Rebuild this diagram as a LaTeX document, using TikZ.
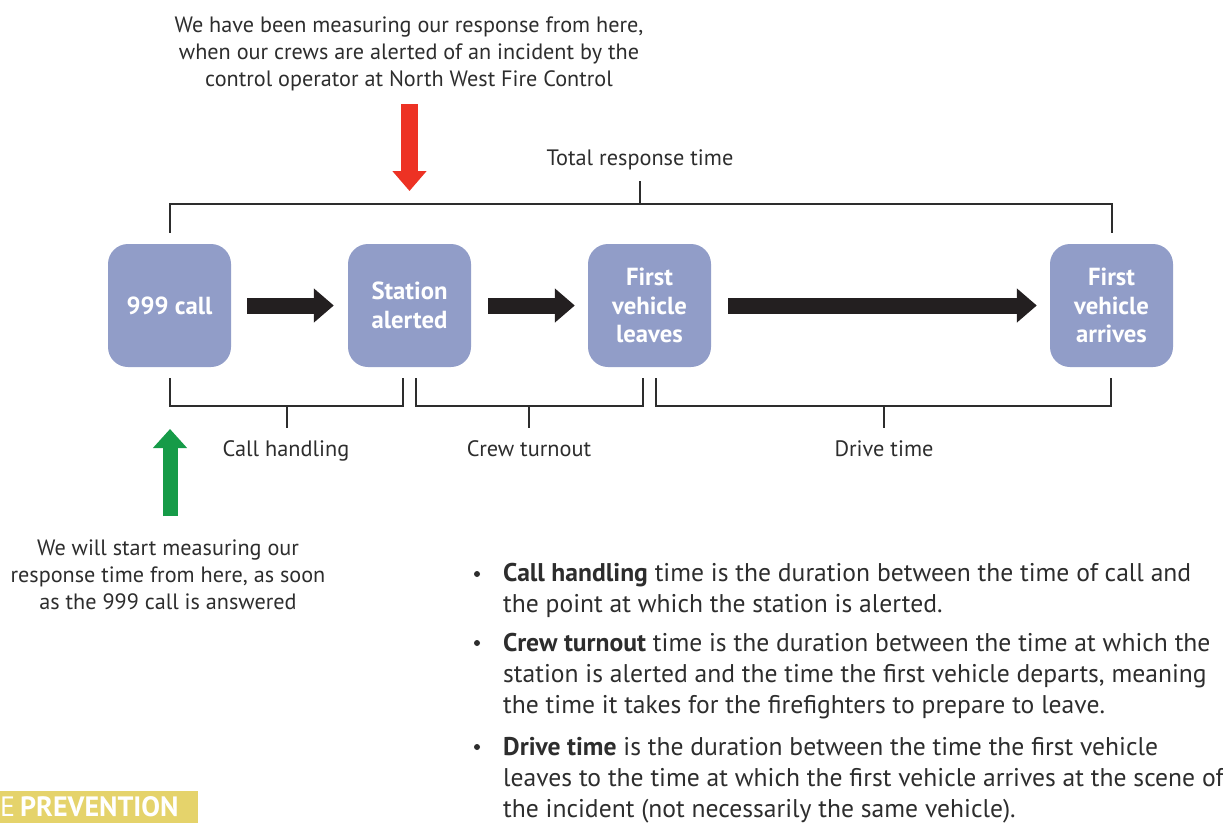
\documentclass[tikz,border=0pt]{standalone}
\usepackage{fontspec}
\setmainfont{PT Sans}
\usetikzlibrary{arrows.meta}
\definecolor{boxc}{RGB}{145,157,200}
\definecolor{txt}{RGB}{45,45,45}
\definecolor{arr}{RGB}{35,31,32}
\definecolor{redc}{RGB}{237,50,36}
\definecolor{greenc}{RGB}{22,155,72}
\definecolor{tagc}{RGB}{229,211,107}
\begin{document}
\begin{tikzpicture}[x=1pt,y=-1pt,
  stage/.style={fill=boxc, rounded corners=20pt, minimum width=123pt, minimum height=123pt,
    inner sep=0pt, text=white, font=\bfseries\fontsize{24.7}{28.5}\selectfont, align=center},
  blockarrow/.style={draw=arr, line width=16pt, -{Triangle[width=33pt,length=20pt]}},
  bracket/.style={draw=txt, line width=2pt},
  lbl/.style={text=txt, inner sep=0pt, font=\fontsize{22.3}{28}\selectfont, align=center},
  note/.style={text=txt, inner sep=0pt, font=\fontsize{22.2}{27}\selectfont, align=center},
  bul/.style={text=txt, inner sep=0pt, font=\fontsize{25.6}{31}\selectfont, align=left, anchor=base west},
  dot/.style={circle, fill=txt, inner sep=0pt, minimum size=6pt}]
\useasboundingbox (0,0) rectangle (1223,823);
% stages
\node[stage] (b1) at (169.5,305.5) {999 call};
\node[stage] (b2) at (409.5,305.5) {Station\\alerted};
\node[stage] (b3) at (649.5,305.5) {First\\vehicle\\leaves};
\node[stage] (b4) at (1111.5,305.5) {First\\vehicle\\arrives};
% block arrows
\draw[blockarrow] ([xshift=16pt]b1.east) -- ([xshift=-14pt]b2.west);
\draw[blockarrow] ([xshift=17pt]b2.east) -- ([xshift=-13pt]b3.west);
\draw[blockarrow] ([xshift=17pt]b3.east) -- ([xshift=-13pt]b4.west);
% top bracket
\coordinate (tl) at (169.5,204);
\coordinate (tr) at (1111.5,204);
\coordinate (tm) at (640,204);
\draw[bracket] ([yshift=11pt]b1.north) -- (tl) -- (tr) -- ([yshift=11pt]b4.north);
\node[lbl, anchor=base] (tot) at (640,165) {Total response time};
\draw[bracket] (tm) -- ([yshift=-11pt]tot.south);
% bottom brackets
\coordinate (c1a) at (170,406); \coordinate (c1b) at (403,406); \coordinate (c1m) at (287,406);
\coordinate (c2a) at (416,406); \coordinate (c2b) at (643,406); \coordinate (c2m) at (529,406);
\coordinate (c3a) at (656,406); \coordinate (c3b) at (1111,406); \coordinate (c3m) at (884,406);
\draw[bracket] (170,378) -- (c1a) -- (c1b) -- (403,378);
\draw[bracket] (416,378) -- (c2a) -- (c2b) -- (643,378);
\draw[bracket] (656,378) -- (c3a) -- (c3b) -- (1111,378);
\node[lbl, anchor=base] (l1) at (286,456) {Call handling};
\node[lbl, anchor=base] (l2) at (529,456) {Crew turnout};
\node[lbl, anchor=base] (l3) at (884,456) {Drive time};
\draw[bracket] (c1m) -- (287,428);
\draw[bracket] (c2m) -- (529,428);
\draw[bracket] (c3m) -- (884,428);
% notes (base anchor = last line)
\node[note, anchor=base] (topnote) at (409,86) {We have been measuring our response from here,\\when our crews are alerted of an incident by the\\control operator at North West Fire Control};
\node[note, anchor=base] (botnote) at (168,609) {We will start measuring our\\response time from here, as soon\\as the 999 call is answered};
% red and green arrows
\coordinate (rs) at (409.5,104);
\coordinate (re) at (409.5,191);
\draw[draw=redc, line width=17pt, -{Triangle[width=33pt,length=20pt]}] (rs) -- (re);
\coordinate (gs) at (170,516);
\coordinate (ge) at (170,429);
\draw[draw=greenc, line width=15pt, -{Triangle[width=33pt,length=19pt]}] (gs) -- (ge);
% bullets
\node[dot] (d1) at (477,574) {};
\node[dot] (d2) at (477,643) {};
\node[dot] (d3) at (477,747) {};
\node[bul] (t1) at (503,612) {\textbf{Call handling} time is the duration between the time of call and\\the point at which the station is alerted.};
\node[bul] (t2) at (503,713) {\textbf{Crew turnout} time is the duration between the time at which the\\station is alerted and the time the first vehicle departs, meaning\\the time it takes for the firefighters to prepare to leave.};
\node[bul] (t3) at (503,817) {\textbf{Drive time} is the duration between the time the first vehicle\\leaves to the time at which the first vehicle arrives at the scene of\\the incident (not necessarily the same vehicle).};
% tag
\fill[tagc] (0,791) rectangle (198,823);
\node[anchor=base west, inner sep=0pt, text=white, font=\fontsize{28}{30}\selectfont] (tagE) at (0,816) {E};
\node[anchor=base west, inner sep=0pt, text=white, font=\bfseries\fontsize{28}{30}\selectfont] (tagP) at (20,816) {PREVENTION};
\end{tikzpicture}
\end{document}
